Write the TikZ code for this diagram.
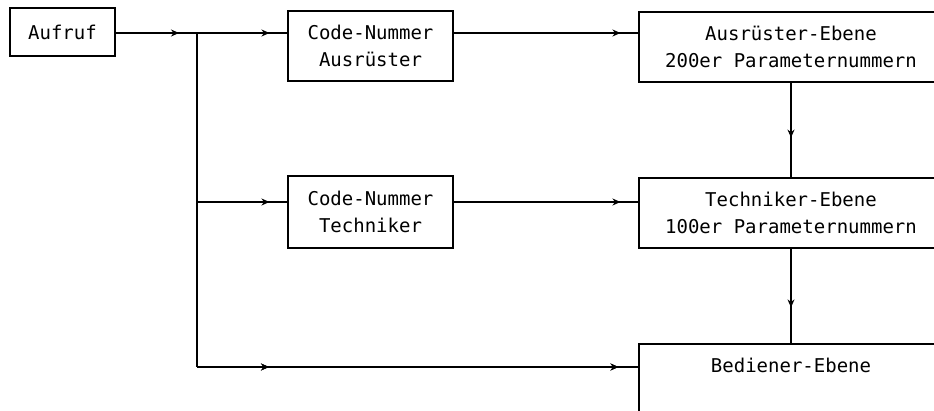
\documentclass[tikz,border=0pt]{standalone}
\usepackage{fontspec}
\setmainfont{DejaVu Sans Mono}
\usetikzlibrary{arrows.meta,decorations.markings}

\tikzstyle{block} = [rectangle, draw, line width=1.1pt, align=center, inner sep=0pt, minimum height=70pt]
\tikzstyle{code} = [block, minimum width=165pt]
\tikzstyle{ebene} = [block, minimum width=304pt, node distance=166pt]
\tikzstyle{line} = [draw, line width=1.1pt]
\tikzset{arrowat/.style={postaction={decorate}, decoration={markings,
    mark=at position #1 with {\arrow{Stealth[length=8pt,width=7pt]}}}}}

\begin{document}
\begin{tikzpicture}[x=1pt, y=-1pt, font=\fontsize{19}{27}\selectfont]
    \useasboundingbox (0,0) rectangle (934,411);
    \clip (0,0) rectangle (934,411);
    % Place nodes
    \node [block, minimum width=105pt, minimum height=48pt] (aufruf) at (62.5,32) {Aufruf};

    \node [code] (codeausr) at (370.5,46) {Code-Nummer\\Ausrüster};
    \node [code, minimum height=72pt] (codetech) at (370.5,212) {Code-Nummer\\Techniker};

    \node [ebene] (ausr) at (791,47) {Ausrüster-Ebene\\200er Parameternummern};
    \node [ebene, below of=ausr] (tech) {Techniker-Ebene\\100er Parameternummern};
    \node [ebene, below of=tech] (bed) {Bediener-Ebene\\~};

    \coordinate (j1) at (197,33);
    \coordinate (j2) at (197,202);
    \coordinate (j3) at (197,367);

    % Draw edges
    \path [line, arrowat=-18pt] (aufruf.east |- j1) -- (j1);
    \path [line, arrowat=-18pt] (j1) -- (j1 -| codeausr.west);
    \path [line, arrowat=-18pt] (codeausr.east |- j1) -- (j1 -| ausr.west);
    \path [line] (j1) -- (j3);
    \path [line, arrowat=-18pt] (j2) -- (j2 -| codetech.west);
    \path [line, arrowat=-18pt] (codetech.east |- j2) -- (j2 -| tech.west);
    \path [line, arrowat=72pt, arrowat=-20pt] (j3) -- (j3 -| bed.west);
    \path [line, arrowat=0.58] (ausr) -- (tech);
    \path [line, arrowat=0.62] (tech) -- (bed);

\end{tikzpicture}
\end{document}
